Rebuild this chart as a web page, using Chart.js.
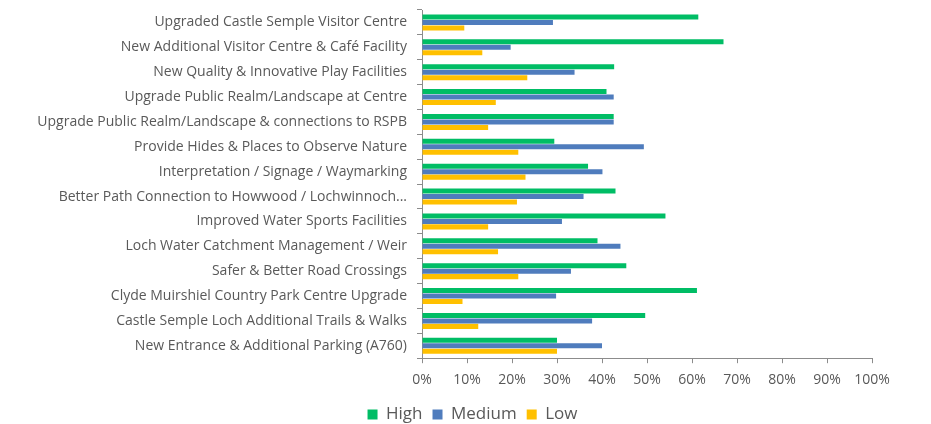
<!DOCTYPE html>
<html>
<head>
<meta charset="utf-8">
<script src="https://cdn.jsdelivr.net/npm/chart.js@4/dist/chart.umd.min.js"></script>
<style>
	html, body { margin: 0; padding: 0; background: #fff; }
	#wrap { width: 931px; height: 424px; }
</style>
</head>
<body>
<div id="wrap"><canvas id="priorityChart" width="931" height="424"></canvas></div>
<script>
// Projects rated by priority (percent of responses)
const projects = [
	'Upgraded Castle Semple Visitor Centre',
	'New Additional Visitor Centre & Café Facility',
	'New Quality & Innovative Play Facilities',
	'Upgrade Public Realm/Landscape at Centre',
	'Upgrade Public Realm/Landscape & connections to RSPB',
	'Provide Hides & Places to Observe Nature',
	'Interpretation / Signage / Waymarking',
	'Better Path Connection to Howwood / Lochwinnoch...',
	'Improved Water Sports Facilities',
	'Loch Water Catchment Management / Weir',
	'Safer & Better Road Crossings',
	'Clyde Muirshiel Country Park Centre Upgrade',
	'Castle Semple Loch Additional Trails & Walks',
	'New Entrance & Additional Parking (A760)'
];

const high = [61.4, 67.0, 42.7, 41.0, 42.6, 29.4, 36.9, 43.0, 54.1, 39.0, 45.4, 61.1, 49.6, 30.0];
const medium = [29.1, 19.7, 33.9, 42.6, 42.6, 49.3, 40.1, 35.9, 31.1, 44.1, 33.1, 29.8, 37.8, 40.0];
const low = [9.4, 13.4, 23.4, 16.4, 14.7, 21.4, 23.0, 21.1, 14.7, 16.9, 21.4, 9.0, 12.5, 30.0];

const xTicks = [0, 10, 20, 30, 40, 50, 60, 70, 80, 90, 100];

const labelGrey = '#595959';
const axisGrey = '#8c8c8c';

// y labels are wider than the y box, stretch the box to the canvas edge so they aren't clipped
const widenYAxis = {
	id: 'widenYAxis',
	afterLayout(chart) {
		chart.scales.y.left = 0;
	}
};

new Chart(document.getElementById('priorityChart'), {
	type: 'bar',
	data: {
		labels: projects,
		datasets: [
			{ label: 'High', data: high, backgroundColor: '#00bd65' },
			{ label: 'Medium', data: medium, backgroundColor: '#4f7cbd' },
			{ label: 'Low', data: low, backgroundColor: '#ffc000' }
		]
	},
	plugins: [widenYAxis],
	options: {
		indexAxis: 'y',
		responsive: false,
		animation: false,
		layout: { padding: { left: 73, right: 59, top: 10, bottom: -9 } },
		datasets: {
			bar: { categoryPercentage: 0.66, barPercentage: 0.92 }
		},
		plugins: {
			tooltip: { enabled: false },
			legend: {
				position: 'bottom',
				labels: {
					color: labelGrey,
					font: { family: 'Open Sans', size: 17 },
					boxWidth: 10,
					boxHeight: 10,
					padding: 10
				}
			}
		},
		scales: {
			x: {
				min: 0,
				max: 100,
				afterBuildTicks: (scale) => {
					scale.ticks = xTicks.map((v) => ({ value: v }));
				},
				ticks: {
					color: labelGrey,
					font: { family: 'Open Sans', size: 14 },
					padding: 8,
					callback: (v) => v + '%'
				},
				grid: { drawOnChartArea: false, tickLength: 5, color: axisGrey },
				border: { color: axisGrey }
			},
			y: {
				afterFit: (scale) => {
					scale.width = 349;
					// labels sit mid-category, no need for the extra half-line padding
					scale.paddingTop = 0;
					scale.paddingBottom = 0;
				},
				ticks: {
					color: labelGrey,
					font: { family: 'Open Sans', size: 14 },
					padding: 10,
					autoSkip: false
				},
				grid: { drawOnChartArea: false, tickLength: 5, color: axisGrey },
				border: { color: axisGrey }
			}
		}
	}
});
</script>
</body>
</html>
